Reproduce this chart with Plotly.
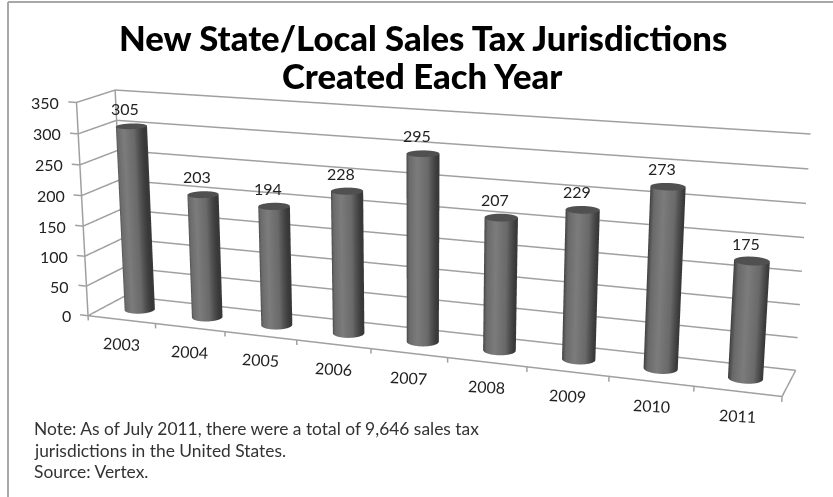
import numpy as np
import plotly.graph_objects as go

years = ["2003","2004","2005","2006","2007","2008","2009","2010","2011"]
values = [305,203,194,228,295,207,229,273,175]
zticks = [0,50,100,150,200,250,300,350]
title_lines = ["New State/Local Sales Tax Jurisdictions","Created Each Year"]
notes = ["Note: As of July 2011, there were a total of 9,646 sales tax","jurisdictions in the United States.","Source: Vertex."]

W,H=833,497
# camera and box geometry fitted to the reference
ex,ey,ez=0.2405,-1.7055,0.1281
cx,cz=0.0036,-0.0401
ay,az=0.0849,0.6449
kx,kzx,kzd=0.3108,-9.6036,26.2088
SX=2/9

xlo,xhi=-0.5,8.5
rlo=-0.7+min(kx,0);rhi=8.5+max(kx,0)
_c=[kzx*a+kzd*b for a in (0,9) for b in (0,1)]
zlo=min(_c)-10;zhi=max(_c)+350

fig=go.Figure()
def sx(x,d): return np.asarray(x,float)+kx*np.asarray(d,float)
def sz(x,d,v): return np.asarray(v,float)+kzx*(np.asarray(x,float)+.5)+kzd*np.asarray(d,float)
def line(x,y,z,w=3,c="#a0a0a0"):
    x=np.array(x,float);y=np.array(y,float);z=np.array(z,float)
    fig.add_trace(go.Scatter3d(x=sx(x,y),y=y,z=sz(x,y,z),mode="lines",line=dict(color=c,width=w),hoverinfo="skip",showlegend=False))
for t in zticks:
    line([xlo-0.12,xlo,xlo,xhi],[0,0,1,1],[t,t,t,t])
line([xlo,xlo],[0,0],[0,350]);line([xlo,xlo],[1,1],[0,350])
line([xlo,xhi,xhi],[0,0,1],[0,0,0])
for i in range(10):
    line([i-.5,i-.5],[0,0],[0,-8])
rx,ry=0.2,0.2
th=np.linspace(0,2*np.pi,61)
light=dict(ambient=1,diffuse=0,specular=0,fresnel=0)
for i,v in enumerate(values):
    xx=i+rx*np.cos(th);dd=0.5+ry*np.sin(th)
    X=np.array([sx(xx,dd)]*2);Y=np.array([dd]*2);Z=np.array([sz(xx,dd,0),sz(xx,dd,v)])
    S=np.abs(np.cos(th))
    fig.add_trace(go.Surface(x=X,y=Y,z=Z,surfacecolor=np.array([S,S]),cmin=0,cmax=1,colorscale=[[0,"#7c7c7c"],[0.6,"#6a6a6a"],[1,"#383838"]],showscale=False,lighting=light,hoverinfo="skip"))
    rr=np.array([0,1.0])
    x2=i+rx*np.outer(rr,np.cos(th));d2=0.5+ry*np.outer(rr,np.sin(th))
    fig.add_trace(go.Surface(x=sx(x2,d2),y=d2,z=sz(x2,d2,v),surfacecolor=np.zeros((2,61)),cmin=0,cmax=1,colorscale=[[0,"#505050"],[1,"#505050"]],showscale=False,lighting=light,hoverinfo="skip"))
F=dict(family="Lato",size=16,color="#222")
ann=[dict(x=float(sx(i,.5)),y=0.5,z=float(sz(i,.5,v)),text=str(v),showarrow=False,yshift=18,xshift=-6,font=F) for i,v in enumerate(values)]
ann+=[dict(x=float(sx(xlo,0)),y=0,z=float(sz(xlo,0,t)),text=str(t),showarrow=False,xanchor="right",xshift=-15,font=F) for t in zticks]
ann+=[dict(x=float(sx(i,0)),y=0,z=float(sz(i,0,0)),text=y,showarrow=False,yshift=-24,xshift=0,textangle=3,font=F) for i,y in enumerate(years)]
hid=dict(visible=False)
frame=dict(color="#a8a8a8",width=2)
shapes=[dict(type="line",xref="paper",yref="paper",x0=8/W,x1=1,y0=1-2/H,y1=1-2/H,line=frame),
        dict(type="line",xref="paper",yref="paper",x0=8/W,x1=8/W,y0=0,y1=1-2/H,line=frame)]
top=[]
for txt,y in zip(title_lines,(37,75)):
    top.append(dict(x=423/W,y=1-y/H,xref="paper",yref="paper",yanchor="middle",text=txt,showarrow=False,font=dict(family="Lato",size=34.7,color="#000",weight=900)))
for txt,y in zip(notes,(428,450,471)):
    top.append(dict(x=32/W,y=1-y/H,xref="paper",yref="paper",yanchor="middle",text=txt,showarrow=False,xanchor="left",font=dict(family="Lato",size=17.4,color="#333")))
fig.update_layout(width=W,height=H,margin=dict(l=0,r=0,t=0,b=0),paper_bgcolor="white",showlegend=False,shapes=shapes,annotations=top,
 scene=dict(domain=dict(x=[0,1],y=[0,1]),xaxis=dict(range=[rlo,rhi],**hid),yaxis=dict(range=[0,1],**hid),zaxis=dict(range=[zlo,zhi],**hid),
  aspectmode="manual",aspectratio=dict(x=(rhi-rlo)*SX,y=ay,z=(zhi-zlo)/350*az),camera=dict(eye=dict(x=ex,y=ey,z=ez),center=dict(x=cx,y=0,z=cz),up=dict(x=0,y=0,z=1),projection=dict(type="perspective")),annotations=ann))
fig.write_html("out.html",config=dict(displayModeBar=False),post_script="document.body.style.margin='0';document.documentElement.style.overflow='hidden';")
